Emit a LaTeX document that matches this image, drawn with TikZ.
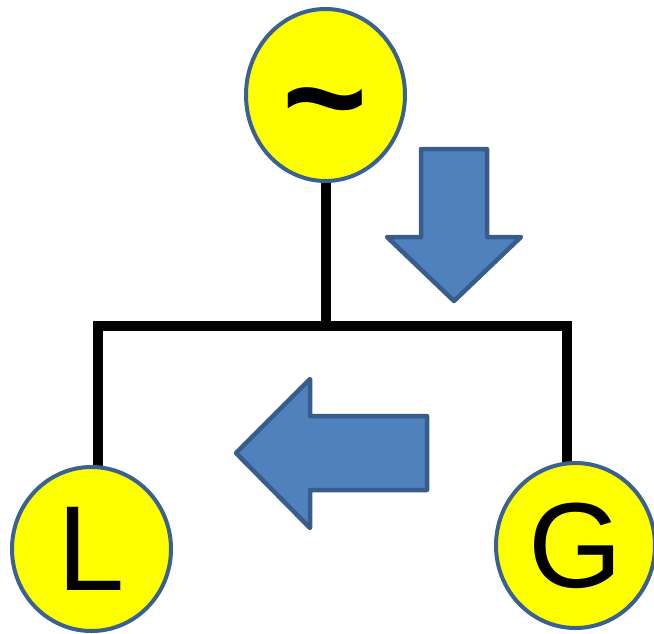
\documentclass[tikz,border=0pt]{standalone}
\usepackage{fontspec}
\setmainfont{Liberation Sans}
\usetikzlibrary{shapes.geometric}
\definecolor{bulb}{HTML}{FFFF00}
\definecolor{rim}{HTML}{3B6190}
\definecolor{arrowfill}{HTML}{4F81BD}
\definecolor{arrowrim}{HTML}{385D8A}
\tikzset{
  source/.style={ellipse, draw=rim, fill=bulb, line width=4pt, inner sep=0pt,
    minimum width=159pt, minimum height=172pt, font=\fontsize{121}{121}\selectfont},
  wire/.style={line width=10pt, line join=miter, line cap=butt, black},
  flow/.style={fill=arrowfill, draw=arrowrim, line width=4.5pt, line join=round}
}
\begin{document}
\begin{tikzpicture}[x=1pt, y=-1pt]
  \useasboundingbox (0,0) rectangle (654,633);

  % busbar junctions
  \coordinate (jl) at (98,326);
  \coordinate (jm) at (325.7,326);
  \coordinate (jr) at (567,326);

  % wires (drawn first so the circles sit on top)
  \draw[wire] (325.7,183) coordinate (ts) -- (jm);
  \draw[wire] (98,467) coordinate (ls) -- (jl) -- (jr) -- (567,463) coordinate (gs);

  % supply, load and generator
  \node[source, minimum height=172pt] (top) at (325.5,95) {};
  \node[font=\bfseries\fontsize{146}{146}\selectfont] (tilde) at (325,118) {\textasciitilde};
  \node[source, minimum height=164pt] (L) at (91.5,549) {L};
  \node[source, minimum height=165pt] (G) at (575.5,545.5) {G};

  % power flow arrows
  \draw[flow] (421,149) -- (487,149) -- (487,237) -- (521,237) -- (454,301)
    -- (387,237) -- (421,237) -- cycle;
  \draw[flow] (236,453) -- (310,379) -- (310,416) -- (427,416) -- (427,490)
    -- (310,490) -- (310,528) -- cycle;
\end{tikzpicture}
\end{document}
